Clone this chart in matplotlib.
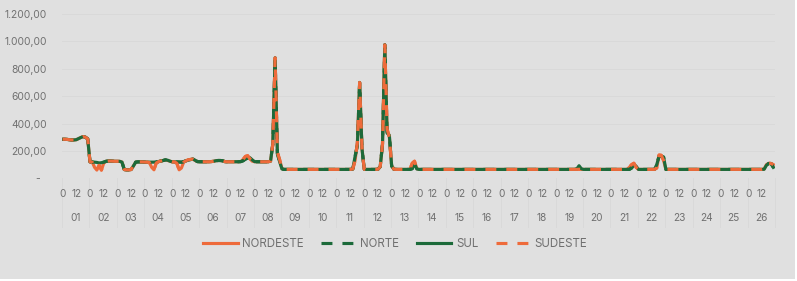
import matplotlib
matplotlib.use("Agg")
import matplotlib.pyplot as plt
from matplotlib.patches import Rectangle

plt.rcParams["font.family"] = ["Inter", "DejaVu Sans"]

# categories: day of month and hour (2-hour readings)
days = ["%02d" % d for d in range(1, 27)]
hours = [0, 2, 4, 6, 8, 10, 12, 14, 16, 18, 20, 22]
hour_labels = [0, 12]

yticks = [0, 200, 400, 600, 800, 1000, 1200]
ytick_labels = ["-  ", "200,00", "400,00", "600,00", "800,00", "1.000,00", "1.200,00"]

# values, one row per day (hours 0..22)
nordeste = [
    285, 285, 284, 282, 280, 280, 282, 290, 298, 305, 300, 288,   # 01
    120, 118, 80, 60, 95, 60, 110, 124, 126, 126, 125, 124,       # 02
    124, 124, 118, 64, 62, 62, 64, 90, 118, 120, 120, 120,        # 03
    118, 118, 115, 80, 62, 112, 122, 126, 130, 133, 130, 125,     # 04
    120, 120, 110, 62, 75, 118, 128, 135, 138, 140, 130, 122,     # 05
    121, 121, 121, 121, 121, 122, 124, 128, 130, 130, 128, 122,   # 06
    121, 121, 121, 121, 121, 121, 122, 138, 160, 165, 142, 125,   # 07
    121, 121, 121, 121, 121, 121, 121, 125, 250, 880, 190, 135,   # 08
    70, 65, 65, 65, 65, 65, 65, 65, 65, 65, 65, 65,               # 09
    65, 65, 65, 65, 65, 65, 65, 65, 65, 65, 65, 65,               # 10
    65, 65, 65, 65, 65, 65, 65, 68, 130, 260, 700, 220,           # 11
    66, 65, 65, 65, 65, 65, 66, 85, 250, 975, 360, 300,           # 12
    90, 66, 65, 65, 65, 65, 65, 65, 65, 110, 125, 70,             # 13
    65, 65, 65, 65, 65, 65, 65, 65, 65, 65, 65, 65,               # 14
    65, 65, 65, 65, 65, 65, 65, 65, 65, 65, 65, 65,               # 15
    65, 65, 65, 65, 65, 65, 65, 65, 65, 65, 65, 65,               # 16
    65, 65, 65, 65, 65, 65, 65, 65, 65, 65, 65, 65,               # 17
    65, 65, 65, 65, 65, 65, 65, 65, 65, 65, 65, 65,               # 18
    65, 65, 65, 65, 65, 65, 65, 65, 65, 65, 66, 65,               # 19
    65, 65, 65, 65, 65, 65, 65, 65, 65, 65, 65, 65,               # 20
    65, 65, 65, 65, 65, 65, 65, 65, 80, 100, 110, 80,             # 21
    65, 65, 65, 65, 65, 65, 65, 65, 75, 170, 168, 130,            # 22
    65, 65, 65, 65, 65, 65, 65, 65, 65, 65, 65, 65,               # 23
    65, 65, 65, 65, 65, 65, 65, 65, 65, 65, 65, 65,               # 24
    65, 65, 65, 65, 65, 65, 65, 65, 65, 65, 65, 65,               # 25
    65, 65, 65, 65, 65, 65, 65, 68, 100, 110, 108, 100,           # 26
]

norte = [
    285, 285, 284, 282, 280, 280, 282, 290, 298, 305, 300, 288,   # 01
    120, 120, 118, 116, 112, 114, 118, 124, 126, 126, 125, 124,   # 02
    124, 124, 118, 64, 62, 62, 64, 90, 118, 120, 120, 120,        # 03
    118, 118, 118, 118, 118, 120, 122, 126, 130, 135, 132, 125,   # 04
    120, 120, 120, 119, 118, 122, 128, 132, 136, 142, 132, 122,   # 05
    121, 121, 121, 121, 121, 122, 124, 128, 130, 130, 128, 122,   # 06
    121, 121, 121, 121, 121, 121, 122, 128, 140, 148, 150, 135,   # 07
    122, 121, 121, 121, 121, 121, 121, 125, 250, 880, 180, 120,   # 08
    68, 65, 65, 65, 65, 65, 65, 65, 65, 65, 65, 65,               # 09
    65, 65, 65, 65, 65, 65, 65, 65, 65, 65, 65, 65,               # 10
    65, 65, 65, 65, 65, 65, 65, 68, 160, 240, 700, 220,           # 11
    66, 65, 65, 65, 65, 65, 66, 85, 250, 975, 330, 315,           # 12
    90, 66, 65, 65, 65, 65, 65, 65, 65, 70, 110, 68,              # 13
    65, 65, 65, 65, 65, 65, 65, 65, 65, 65, 65, 65,               # 14
    65, 65, 65, 65, 65, 65, 65, 65, 65, 65, 65, 65,               # 15
    65, 65, 65, 65, 65, 65, 65, 65, 65, 65, 65, 65,               # 16
    65, 65, 65, 65, 65, 65, 65, 65, 65, 65, 65, 65,               # 17
    65, 65, 65, 65, 65, 65, 65, 65, 65, 65, 65, 65,               # 18
    65, 65, 65, 65, 65, 65, 65, 65, 65, 68, 92, 70,               # 19
    65, 65, 65, 65, 65, 65, 65, 65, 65, 65, 65, 65,               # 20
    65, 65, 65, 65, 65, 65, 65, 65, 65, 75, 100, 88,              # 21
    65, 65, 65, 65, 65, 65, 65, 65, 100, 160, 160, 155,           # 22
    65, 65, 65, 65, 65, 65, 65, 65, 65, 65, 65, 65,               # 23
    65, 65, 65, 65, 65, 65, 65, 65, 65, 65, 65, 65,               # 24
    65, 65, 65, 65, 65, 65, 65, 65, 65, 65, 65, 65,               # 25
    65, 65, 65, 65, 65, 65, 65, 66, 95, 108, 108, 80,             # 26
]

sul = [
    285, 285, 284, 282, 280, 280, 282, 290, 298, 305, 300, 288,   # 01
    120, 120, 118, 116, 112, 114, 118, 124, 126, 126, 125, 124,   # 02
    124, 124, 118, 64, 62, 62, 64, 90, 118, 120, 120, 120,        # 03
    118, 118, 118, 118, 118, 120, 122, 126, 130, 135, 132, 125,   # 04
    120, 120, 120, 119, 118, 122, 128, 132, 136, 142, 132, 122,   # 05
    121, 121, 121, 121, 121, 122, 124, 128, 130, 130, 128, 122,   # 06
    121, 121, 121, 121, 121, 121, 122, 128, 140, 148, 150, 135,   # 07
    122, 121, 121, 121, 121, 121, 121, 125, 250, 880, 180, 120,   # 08
    68, 65, 65, 65, 65, 65, 65, 65, 65, 65, 65, 65,               # 09
    65, 65, 65, 65, 65, 65, 65, 65, 65, 65, 65, 65,               # 10
    65, 65, 65, 65, 65, 65, 65, 68, 160, 240, 700, 220,           # 11
    66, 65, 65, 65, 65, 65, 66, 85, 250, 975, 330, 315,           # 12
    90, 66, 65, 65, 65, 65, 65, 65, 65, 70, 110, 68,              # 13
    65, 65, 65, 65, 65, 65, 65, 65, 65, 65, 65, 65,               # 14
    65, 65, 65, 65, 65, 65, 65, 65, 65, 65, 65, 65,               # 15
    65, 65, 65, 65, 65, 65, 65, 65, 65, 65, 65, 65,               # 16
    65, 65, 65, 65, 65, 65, 65, 65, 65, 65, 65, 65,               # 17
    65, 65, 65, 65, 65, 65, 65, 65, 65, 65, 65, 65,               # 18
    65, 65, 65, 65, 65, 65, 65, 65, 65, 68, 92, 70,               # 19
    65, 65, 65, 65, 65, 65, 65, 65, 65, 65, 65, 65,               # 20
    65, 65, 65, 65, 65, 65, 65, 65, 65, 75, 100, 88,              # 21
    65, 65, 65, 65, 65, 65, 65, 65, 100, 160, 160, 155,           # 22
    65, 65, 65, 65, 65, 65, 65, 65, 65, 65, 65, 65,               # 23
    65, 65, 65, 65, 65, 65, 65, 65, 65, 65, 65, 65,               # 24
    65, 65, 65, 65, 65, 65, 65, 65, 65, 65, 65, 65,               # 25
    65, 65, 65, 65, 65, 65, 65, 66, 95, 108, 108, 80,             # 26
]

sudeste = [
    285, 285, 284, 282, 280, 280, 282, 290, 298, 305, 300, 288,   # 01
    120, 118, 80, 60, 95, 60, 110, 124, 126, 126, 125, 124,       # 02
    124, 124, 118, 64, 62, 62, 64, 90, 118, 120, 120, 120,        # 03
    118, 118, 115, 80, 62, 112, 122, 126, 130, 133, 130, 125,     # 04
    120, 120, 110, 62, 75, 118, 128, 135, 138, 140, 130, 122,     # 05
    121, 121, 121, 121, 121, 122, 124, 128, 130, 130, 128, 122,   # 06
    121, 121, 121, 121, 121, 121, 122, 138, 160, 165, 142, 125,   # 07
    121, 121, 121, 121, 121, 121, 121, 125, 250, 880, 190, 135,   # 08
    70, 65, 65, 65, 65, 65, 65, 65, 65, 65, 65, 65,               # 09
    65, 65, 65, 65, 65, 65, 65, 65, 65, 65, 65, 65,               # 10
    65, 65, 65, 65, 65, 65, 65, 68, 130, 260, 700, 220,           # 11
    66, 65, 65, 65, 65, 65, 66, 85, 250, 975, 360, 300,           # 12
    90, 66, 65, 65, 65, 65, 65, 65, 65, 110, 125, 70,             # 13
    65, 65, 65, 65, 65, 65, 65, 65, 65, 65, 65, 65,               # 14
    65, 65, 65, 65, 65, 65, 65, 65, 65, 65, 65, 65,               # 15
    65, 65, 65, 65, 65, 65, 65, 65, 65, 65, 65, 65,               # 16
    65, 65, 65, 65, 65, 65, 65, 65, 65, 65, 65, 65,               # 17
    65, 65, 65, 65, 65, 65, 65, 65, 65, 65, 65, 65,               # 18
    65, 65, 65, 65, 65, 65, 65, 65, 65, 65, 66, 65,               # 19
    65, 65, 65, 65, 65, 65, 65, 65, 65, 65, 65, 65,               # 20
    65, 65, 65, 65, 65, 65, 65, 65, 80, 100, 110, 80,             # 21
    65, 65, 65, 65, 65, 65, 65, 65, 75, 170, 168, 130,            # 22
    65, 65, 65, 65, 65, 65, 65, 65, 65, 65, 65, 65,               # 23
    65, 65, 65, 65, 65, 65, 65, 65, 65, 65, 65, 65,               # 24
    65, 65, 65, 65, 65, 65, 65, 65, 65, 65, 65, 65,               # 25
    65, 65, 65, 65, 65, 65, 65, 68, 100, 110, 108, 100,           # 26
]

orange = "#ee6b3b"
green = "#1c6a3a"
bg = "#e0e0e0"
grid = "#d9d9d9"
txt = "#707070"

# x = hour counted from the start of day 01
x = [d * 24 + h for d in range(len(days)) for h in hours]
n_hours = len(days) * 24

fig = plt.figure(figsize=(7.97, 2.81), dpi=100, facecolor="white")
fig.patches.append(Rectangle((0, 2 / 281), 795 / 797, 279 / 281,
                             transform=fig.transFigure, facecolor=bg,
                             edgecolor="none", zorder=-10))
ax = fig.add_axes([62 / 797, (281 - 178.3) / 281, 713 / 797, 164.3 / 281])
ax.set_facecolor(bg)

lw = 2.25
dash = (0, (3.5, 3.2))
ax.plot(x, nordeste, color=orange, lw=lw, label="NORDESTE", solid_joinstyle="round")
ax.plot(x, norte, color=green, lw=lw, ls=dash, label="NORTE")
ax.plot(x, sul, color=green, lw=lw, label="SUL", solid_joinstyle="round")
ax.plot(x, sudeste, color=orange, lw=lw, ls=dash, label="SUDESTE")

ax.set_xlim(-0.5, n_hours - 0.5)
ax.set_ylim(0, 1200)
ax.set_yticks(yticks)
ax.set_yticklabels(ytick_labels)
ax.tick_params(axis="y", length=0, pad=11, labelsize=7.4, labelcolor=txt)
ax.set_xticks([])
ax.grid(axis="y", color=grid, lw=0.7)
ax.set_axisbelow(True)
for s in ax.spines.values():
    s.set_visible(False)

# two-level category axis: hour labels, day labels, separators
tr = ax.get_xaxis_transform()
for i, d in enumerate(days):
    for h in hour_labels:
        ax.text(i * 24 + h, -0.096, str(h), transform=tr, ha="center",
                va="center", fontsize=7.3, color=txt)
    ax.text(i * 24 + 11.5, -0.244, d, transform=tr, ha="center",
            va="center", fontsize=7.3, color=txt)
for i in range(len(days) + 1):
    ax.plot([i * 24 - 0.5] * 2, [0, -0.295], transform=tr, color=grid,
            lw=0.7, clip_on=False)

fig.legend(loc="center", bbox_to_anchor=(0.496, 0.132), ncol=4,
           frameon=False, fontsize=8.3, handlelength=3.0, handletextpad=0.4,
           columnspacing=1.5, labelcolor=txt)

fig.savefig("out.png", dpi=100, facecolor=fig.get_facecolor())
